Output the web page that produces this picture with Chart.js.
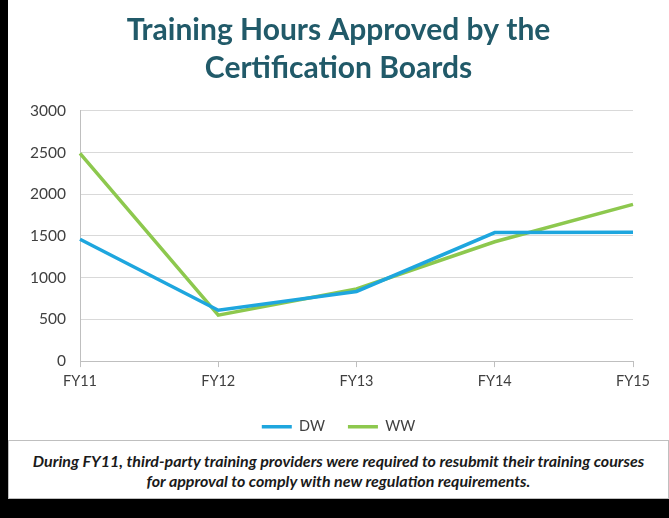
<!DOCTYPE html>
<html>
<head>
<meta charset="utf-8">
<script src="https://cdn.jsdelivr.net/npm/chart.js@4.4.0/dist/chart.umd.min.js"></script>
<style>
  html, body { margin: 0; padding: 0; background: #000; }
  body { width: 669px; height: 518px; position: relative; overflow: hidden; }
  #wrap { position: absolute; left: 8px; top: 0; width: 661px; height: 440px; background: #fff; overflow: hidden; }
  #note {
    position: absolute; left: 8px; top: 440px; width: 661px; height: 59px;
    background: #fff; border: 1px solid #bfbfbf;
    font-family: Lato, sans-serif; font-weight: bold; font-style: italic;
    font-size: 16px; line-height: 20px; color: #1a1a1a; text-align: center;
    box-sizing: border-box; padding-top: 10px; white-space: nowrap;
  }
</style>
</head>
<body>
<div id="wrap"><canvas id="hoursChart" width="661" height="444"></canvas></div>
<div id="note">During FY11, third-party training providers were required to resubmit their training courses<br>for approval to comply with new regulation requirements.</div>
<script>
const years = ['FY11', 'FY12', 'FY13', 'FY14', 'FY15'];
const dwHours = [1460, 610, 835, 1540, 1545];
const wwHours = [2490, 550, 865, 1430, 1878];
const yTicks = [0, 500, 1000, 1500, 2000, 2500, 3000];

document.addEventListener("DOMContentLoaded", function () {
    const ctx = document.getElementById('hoursChart').getContext('2d');

    new Chart(ctx, {
        type: 'line',
        data: {
            labels: years,
            datasets: [{
                label: 'DW',
                data: dwHours,
                borderColor: '#1ea6de',
                backgroundColor: '#1ea6de',
                borderWidth: 3.5,
                pointRadius: 0,
                tension: 0
            }, {
                label: 'WW',
                data: wwHours,
                borderColor: '#8dc84e',
                backgroundColor: '#8dc84e',
                borderWidth: 3.5,
                pointRadius: 0,
                tension: 0
            }]
        },
        options: {
            responsive: false,
            animation: false,
            layout: { padding: 0 },
            scales: {
                x: {
                    offset: false,
                    grid: { drawOnChartArea: false, color: '#bfbfbf', tickLength: 6 },
                    border: { color: '#bfbfbf' },
                    ticks: { color: '#404040', font: { family: 'Lato', size: 14.5 }, padding: 6, maxRotation: 0 }
                },
                y: {
                    min: 0,
                    max: 3000,
                    afterFit: function (scale) { scale.width = 72; },
                    afterBuildTicks: function (scale) { scale.ticks = yTicks.map(v => ({ value: v })); },
                    grid: { color: '#d9d9d9', drawTicks: false },
                    border: { color: '#bfbfbf' },
                    ticks: {
                        color: '#404040',
                        font: { family: 'Lato', size: 15.5 },
                        padding: 14,
                        callback: function (value) { return String(value); }
                    }
                },
                // empty right-hand axis, only keeps room after FY15
                yRight: {
                    position: 'right',
                    display: true,
                    afterFit: function (scale) { scale.width = 36; },
                    grid: { display: false },
                    border: { display: false },
                    ticks: { display: false }
                }
            },
            plugins: {
                title: {
                    display: true,
                    text: ['Training Hours Approved by the', 'Certification Boards'],
                    color: '#215a69',
                    font: { family: 'Lato', size: 30, weight: 'bold', lineHeight: 1.28 },
                    padding: { top: 11, bottom: 23 }
                },
                legend: {
                    position: 'bottom',
                    labels: {
                        usePointStyle: true,
                        pointStyle: 'line',
                        pointStyleWidth: 30,
                        boxWidth: 30,
                        color: '#404040',
                        font: { family: 'Lato', size: 14.5 },
                        padding: 23
                    }
                },
                tooltip: { enabled: false }
            }
        }
    });
});
</script>
</body>
</html>
